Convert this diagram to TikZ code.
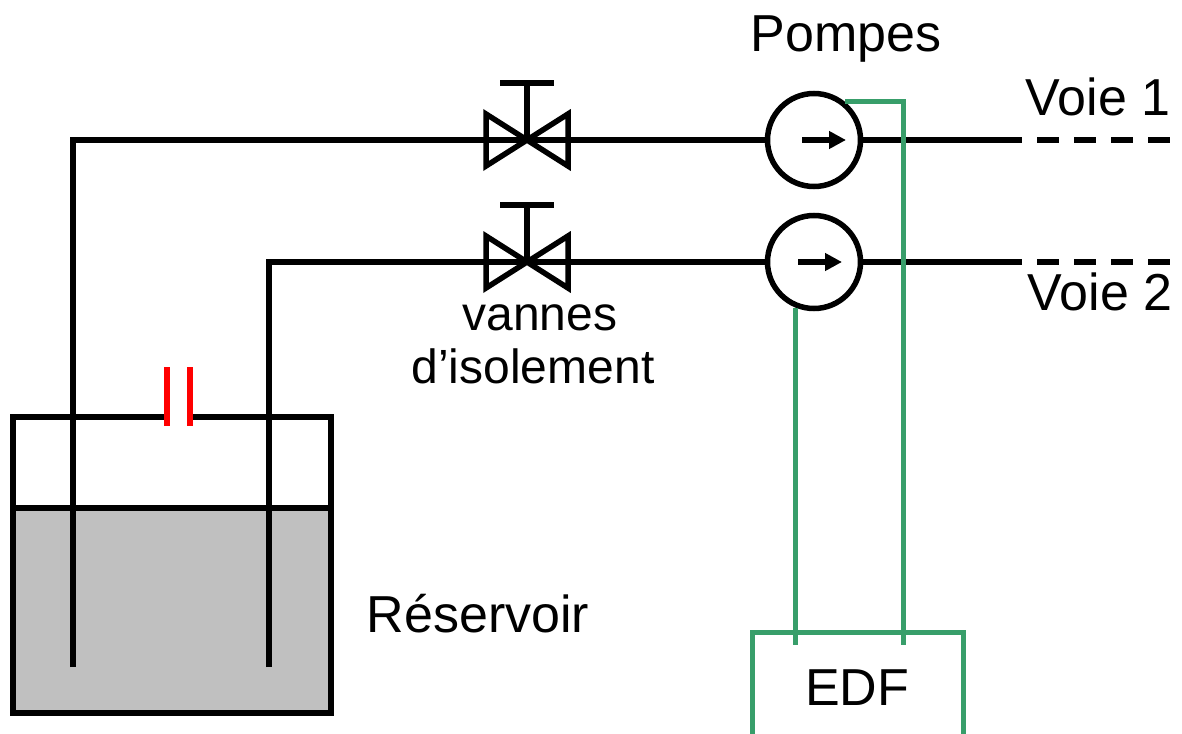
\documentclass[tikz,border=0pt]{standalone}
\usepackage{fontspec}
\setmainfont{Liberation Sans}
\usepackage{xcolor}
\usetikzlibrary{arrows.meta,calc,positioning}

\definecolor{edfgreen}{RGB}{56,158,106}
\definecolor{liquide}{RGB}{192,192,192}

\tikzset{
  pipe/.style={line width=5.5pt},
  cable/.style={color=edfgreen,line width=5pt},
  pompe/.style={circle,draw,line width=5.5pt,minimum size=93pt,inner sep=0pt},
  texte/.style={font=\fontsize{52}{60}\selectfont,inner sep=0pt,anchor=base},
  petit/.style={texte,font=\fontsize{48}{56}\selectfont},
  vanne/.pic={
    \draw[pipe] (-41,-26) -- (41,26) -- (41,-26) -- (-41,26) -- cycle;
    \draw[pipe] (0,0) -- (0,57) (-27,57) -- (27,57);
  }
}

\begin{document}
\begin{tikzpicture}[x=1pt,y=1pt,yscale=-1,xscale=1]
\useasboundingbox (0,0) rectangle (1182,733);

%Shape: Reservoir
\fill[liquide] (13,508) rectangle (331,713);
\draw[pipe] (167,417) -- (13,417) -- (13,713) -- (331,713) -- (331,417) -- (190,417);
\draw[pipe] (13,508) -- (331,508);
%Straight Lines: event
\draw[color=red,line width=5.5pt] (167,367) -- (167,426) (190,367) -- (190,426);

%Coordinates
\coordinate (tube1) at (73,667);
\coordinate (tube2) at (269,667);
\coordinate (vanne1) at (527,140);
\coordinate (vanne2) at (527,262);
\coordinate (voie1) at (1000,140);
\coordinate (fin1) at (1170,140);
\coordinate (voie2) at (1000,262);
\coordinate (fin2) at (1170,262);
\coordinate (edfb) at (903,645);

%Shape: Circle
\node[pompe] (pompe1) at (814,140) {};
\node[pompe] (pompe2) at (814,262) {};
\draw[pipe,-{Triangle[length=17pt,width=17pt]}] ($(pompe1.center)+(-12,0)$) -- ++(44,0);
\draw[pipe,-{Triangle[length=17pt,width=17pt]}] ($(pompe2.center)+(-16,0)$) -- ++(44,0);

%Straight Lines: pipes
\draw[pipe] (tube1) |- (pompe1);
\draw[pipe] (tube2) |- (pompe2);
\pic at (vanne1) {vanne};
\pic at (vanne2) {vanne};
\draw[pipe] (pompe1) -- (voie1);
\draw[pipe,dash pattern=on 22pt off 15pt] (voie1) -- (fin1);
\draw[pipe] (pompe2) -- (voie2);
\draw[pipe,dash pattern=on 22pt off 15pt] (voie2) -- (fin2);

%Straight Lines: EDF
\draw[cable] (pompe1.51) -| (edfb);
\draw[cable] (pompe2.248) -- (pompe2.248 |- edfb);
\draw[cable] (752,740) -- (752,632) -- (963,632) -- (963,740);

% Text Node
\node[texte] (pompes) at (846,52) {Pompes};
% Text Node
\node[texte] (txtvoie1) at (1098,115) {Voie 1};
% Text Node
\node[texte] (txtvoie2) at (1100,310) {Voie 2};
% Text Node
\node[petit] (vannes) at (540,330) {vannes};
% Text Node
\node[petit] (isolement) at (533,383) {d’isolement};
% Text Node
\node[texte] (reservoir) at (478,632) {Réservoir};
% Text Node
\node[texte] (edf) at (857,705) {EDF};

\end{tikzpicture}
\end{document}
